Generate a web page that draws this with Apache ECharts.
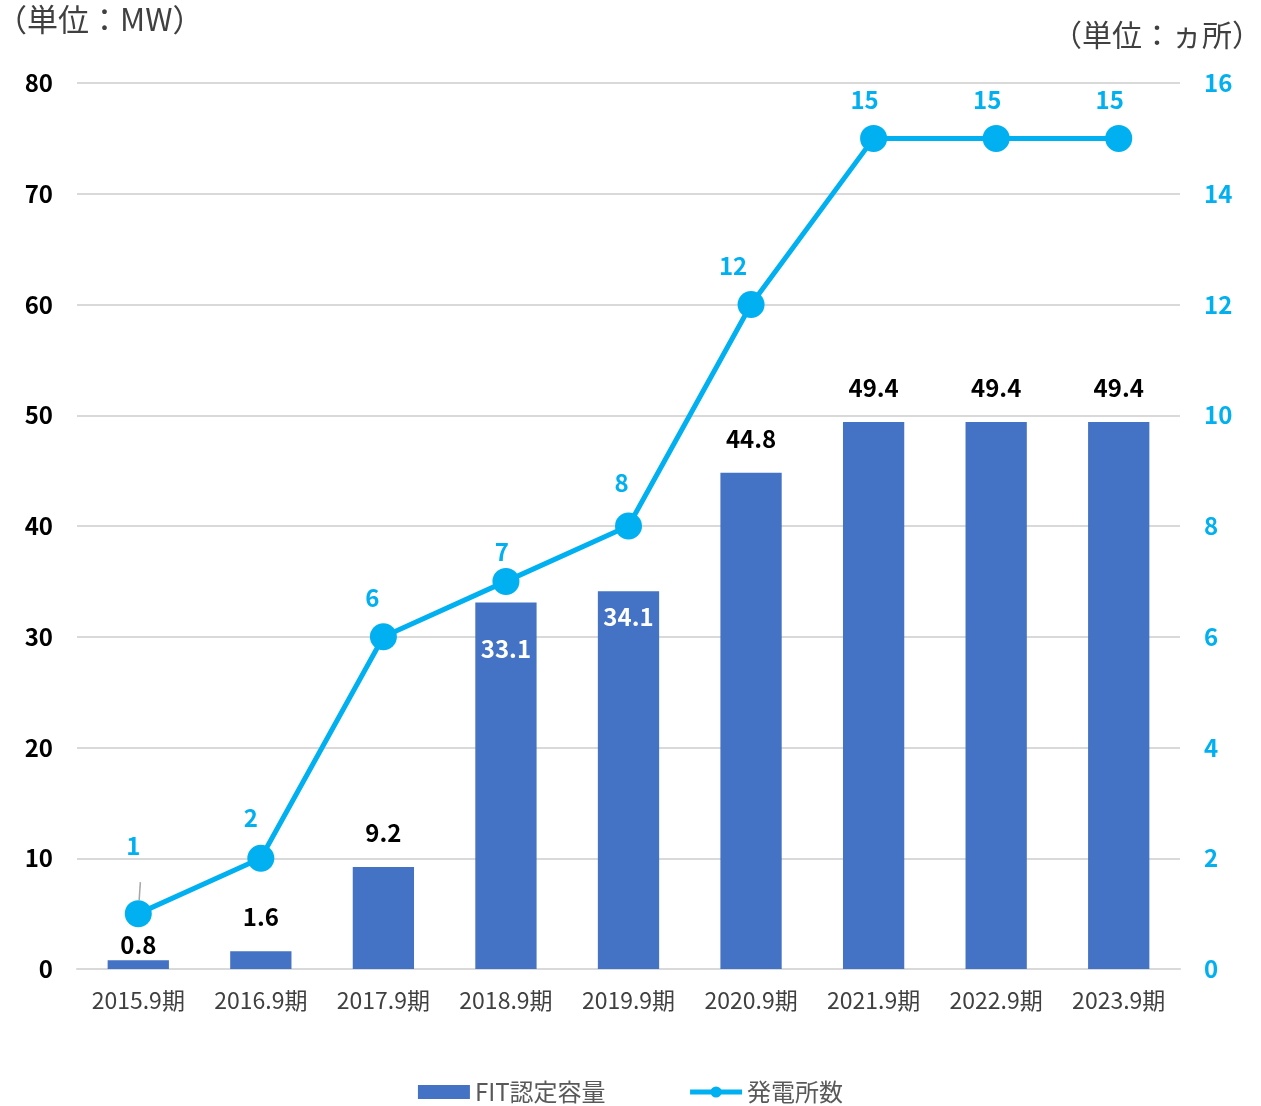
<!DOCTYPE html>
<html>
<head>
<meta charset="utf-8">
<script src="https://cdn.jsdelivr.net/npm/echarts@6/dist/echarts.min.js"></script>
<style>
  html, body { margin: 0; padding: 0; background: #fff; }
  #chart { width: 1261px; height: 1106px; }
</style>
</head>
<body>
<div id="chart"></div>
<script>
const categories = ['2015.9期', '2016.9期', '2017.9期', '2018.9期', '2019.9期', '2020.9期', '2021.9期', '2022.9期', '2023.9期']
const capacityMW = [0.8, 1.6, 9.2, 33.1, 34.1, 44.8, 49.4, 49.4, 49.4]
const plantCount = [1, 2, 6, 7, 8, 12, 15, 15, 15]
const leftTicks = { min: 0, max: 80, interval: 10 }
const rightTicks = { min: 0, max: 16, interval: 2 }

const FONT = '"Noto Sans CJK JP", "Noto Sans", sans-serif'
const BAR = '#4472C4'
const LINE = '#00B0F0'

// bar labels: most sit above the bar, the two middle ones sit inside in white
const barData = capacityMW.map((v, i) => {
  if (i === 3) return { value: v, label: { position: 'insideTop', distance: 34, color: '#fff' } }
  if (i === 4) return { value: v, label: { position: 'insideTop', distance: 14, color: '#fff' } }
  if (i === 0) return { value: v, label: { distance: 3 } }
  return v
})

// point labels that were nudged off their point keep a thin leader line
const labelOffsets = [[-5, -29], [-10, -2], [-11, 0], [-4, 9], [-7, -5], [-18, 0], [-9, 0], [-9, 0], [-9, 0]]
const lineData = plantCount.map((v, i) => ({
  value: v,
  label: { offset: labelOffsets[i] },
  labelLine: { show: i === 0 },
}))

const chart = echarts.init(document.getElementById('chart'), null, { renderer: 'canvas' })

chart.setOption({
  animation: false,
  textStyle: { fontFamily: FONT },
  title: [
    {
      text: '（単位：MW）',
      left: -9,
      top: -1,
      textStyle: { fontSize: 31, fontWeight: 'normal', color: '#404040', fontFamily: FONT },
    },
    {
      text: '（単位：ヵ所）',
      right: -6,
      top: 15,
      textStyle: { fontSize: 30, fontWeight: 'normal', color: '#404040', fontFamily: FONT },
    },
  ],
  grid: { left: 77, right: 81, top: 83, bottom: 137 },
  legend: {
    bottom: -3,
    left: 'center',
    itemWidth: 52,
    itemHeight: 14,
    itemGap: 82,
    textStyle: { fontSize: 24, color: '#595959', fontFamily: FONT },
    data: [
      { name: 'FIT認定容量', icon: 'rect' },
      { name: '発電所数', lineStyle: { width: 5 } },
    ],
  },
  xAxis: {
    type: 'category',
    data: categories,
    axisTick: { show: false },
    axisLine: { lineStyle: { color: '#d9d9d9', width: 2 } },
    axisLabel: { color: '#404040', fontSize: 23, margin: 20, interval: 0, fontFamily: FONT },
  },
  yAxis: [
    {
      type: 'value',
      ...leftTicks,
      axisLine: { show: false },
      axisTick: { show: false },
      axisLabel: { color: '#000', fontSize: 24, fontWeight: 'bold', margin: 24, fontFamily: FONT },
      splitLine: { lineStyle: { color: '#d9d9d9', width: 2 } },
    },
    {
      type: 'value',
      ...rightTicks,
      axisLine: { show: false },
      axisTick: { show: false },
      axisLabel: { color: LINE, fontSize: 24, fontWeight: 'bold', margin: 24, fontFamily: FONT },
      splitLine: { show: false },
    },
  ],
  series: [
    {
      name: 'FIT認定容量',
      type: 'bar',
      yAxisIndex: 0,
      barWidth: '50%',
      itemStyle: { color: BAR },
      label: {
        show: true,
        position: 'top',
        distance: 22,
        color: '#000',
        fontSize: 24,
        fontWeight: 'bold',
        fontFamily: FONT,
      },
      data: barData,
    },
    {
      name: '発電所数',
      type: 'line',
      yAxisIndex: 1,
      symbol: 'circle',
      symbolSize: 27,
      lineStyle: { color: LINE, width: 5 },
      itemStyle: { color: LINE },
      label: {
        show: true,
        position: 'top',
        distance: 13,
        color: LINE,
        fontSize: 24,
        fontWeight: 'bold',
        fontFamily: FONT,
      },
      labelLine: { lineStyle: { color: '#a6a6a6', width: 1.5 } },
      z: 3,
      data: lineData,
    },
  ],
})
</script>
</body>
</html>
